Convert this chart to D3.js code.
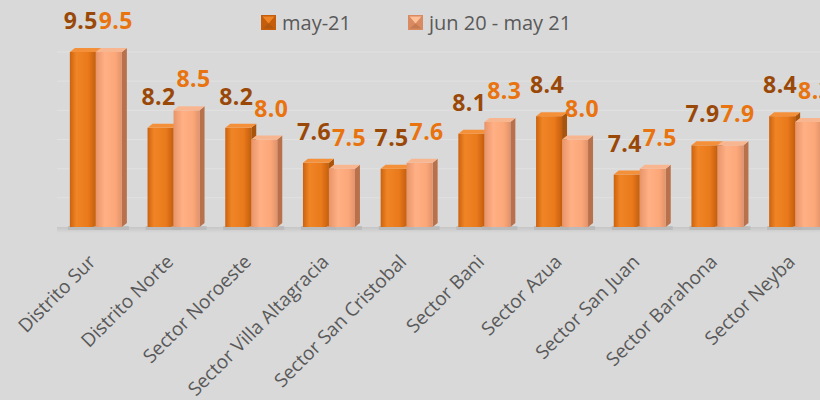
<!DOCTYPE html>
<html><head><meta charset="utf-8">
<script src="https://cdn.jsdelivr.net/npm/d3@7"></script>
<style>html,body{margin:0;padding:0;background:#d9d9d9;}svg{display:block;}</style>
</head><body>
<script>
const categories = ["Distrito Sur","Distrito Norte","Sector Noroeste","Sector Villa Altagracia","Sector San Cristobal","Sector Bani","Sector Azua","Sector San Juan","Sector Barahona","Sector Neyba"];
const seriesNames = ["may-21","jun 20 - may 21"];
const may21 = [9.5,8.2,8.2,7.6,7.5,8.1,8.4,7.4,7.9,8.4];
const jun20may21 = [9.5,8.5,8.0,7.5,7.6,8.3,8.0,7.5,7.9,8.3];
const yTicks = [6.5,7.0,7.5,8.0,8.5,9.0,9.5];

const W = 820, H = 400;
const svg = d3.select("body").append("svg").attr("width", W).attr("height", H);
svg.append("rect").attr("width", W).attr("height", H).attr("fill", "#d9d9d9");

const defs = svg.append("defs");
function hgrad(id, stops){
  const g = defs.append("linearGradient").attr("id", id).attr("x1","0").attr("x2","1").attr("y1","0").attr("y2","0");
  stops.forEach(s => g.append("stop").attr("offset", s[0]).attr("stop-color", s[1]));
}
hgrad("gDark", [["0%","#cc620e"],["25%","#f08526"],["70%","#ea7a1c"],["100%","#c45e0c"]]);
hgrad("gLight", [["0%","#e8946a"],["35%","#ffb084"],["75%","#fba77a"],["100%","#e2926a"]]);
const vg = defs.append("linearGradient").attr("id","gFloor").attr("x1","0").attr("x2","0").attr("y1","0").attr("y2","1");
vg.append("stop").attr("offset","0%").attr("stop-color","#b8b8b8");
vg.append("stop").attr("offset","100%").attr("stop-color","#d9d9d9");

const x = d3.scaleBand().domain(categories).range([57, 834]).padding(0);
const y = d3.scaleLinear().domain([6.5, 9.5]).range([227, 52]);

// gridlines
svg.append("g").selectAll("line").data(yTicks.slice(1)).join("line")
  .attr("x1", 57).attr("x2", 834)
  .attr("y1", d => y(d)).attr("y2", d => y(d))
  .attr("stroke", "#e1e1e1").attr("stroke-width", 1);

// floor shadow
svg.append("rect").attr("x", 57).attr("y", y(6.5)).attr("width", 777).attr("height", 6).attr("fill", "url(#gFloor)").attr("opacity", 0.6);

const bw = 26, dx = 5, dz = 4;
const series = [
  {name: seriesNames[0], values: may21, off: -bw, front: "url(#gDark)", side: "#a9540d", top: "#f4903a", label: "#9a4808", shift: -2},
  {name: seriesNames[1], values: jun20may21, off: 0, front: "url(#gLight)", side: "#b8714a", top: "#f8b690", label: "#e8730f", shift: 7}
];

const bars = svg.append("g");
categories.forEach((c, i) => {
  const cx = x(c) + x.bandwidth() / 2;
  series.forEach(s => {
    const v = s.values[i];
    const x0 = cx + s.off, x1 = x0 + bw, yt = y(v), yb = y(6.5);
    const g = bars.append("g");
    g.append("rect").attr("x", x0 - 2).attr("y", yb - 1).attr("width", bw + dx + 4).attr("height", 4).attr("fill", "#b5b5b5").attr("opacity", 0.7);
    g.append("path").attr("d", `M${x1},${yt}L${x1+dx},${yt-dz}L${x1+dx},${yb-dz}L${x1},${yb}Z`).attr("fill", s.side);
    g.append("rect").attr("x", x0).attr("y", yt).attr("width", bw).attr("height", yb - yt).attr("fill", s.front);
    g.append("path").attr("d", `M${x0},${yt}L${x0+dx},${yt-dz}L${x1+dx},${yt-dz}L${x1},${yt}Z`).attr("fill", s.top);
  });
});

// value labels
const labels = svg.append("g").attr("font-family", "'Open Sans', sans-serif").attr("font-weight", "bold").attr("font-size", 23).attr("letter-spacing", 0.4);
categories.forEach((c, i) => {
  const cx = x(c) + x.bandwidth() / 2;
  series.forEach(s => {
    const v = s.values[i];
    labels.append("text").attr("x", cx + s.off + bw / 2 + s.shift).attr("y", y(v) - 23)
      .attr("text-anchor", "middle").attr("fill", s.label).text(d3.format(".1f")(v));
  });
});

// category labels
svg.append("g").selectAll("text").data(categories).join("text")
  .attr("transform", d => `translate(${x(d) + x.bandwidth()/2 + 1},263) rotate(-45)`)
  .attr("text-anchor", "end")
  .attr("font-family", "'Open Sans', sans-serif").attr("font-size", 19).attr("fill", "#595959")
  .text(d => d);

// legend
const legend = svg.append("g").attr("font-family", "'Open Sans', sans-serif").attr("font-size", 20).attr("fill", "#595959");
const legX = [261, 408];
const legCols = [["#c45e0c","#f08526","#a9540d"],["#d98a60","#ffc09a","#b8714a"]];
seriesNames.forEach((n, k) => {
  const lx = legX[k], ly = 15, s = 15;
  legend.append("rect").attr("x", lx).attr("y", ly).attr("width", s).attr("height", s).attr("fill", legCols[k][0]);
  legend.append("path").attr("d", `M${lx+1.5},${ly+1.5}L${lx+s-1.5},${ly+1.5}L${lx+s/2},${ly+s/2+1}Z`).attr("fill", legCols[k][1]);
  legend.append("path").attr("d", `M${lx+1.5},${ly+s-1.5}L${lx+s-1.5},${ly+s-1.5}L${lx+s/2},${ly+s/2+1}Z`).attr("fill", legCols[k][2]).attr("opacity", 0.6);
  legend.append("text").attr("x", lx + 21).attr("y", 30).text(n);
});
</script>
</body></html>
